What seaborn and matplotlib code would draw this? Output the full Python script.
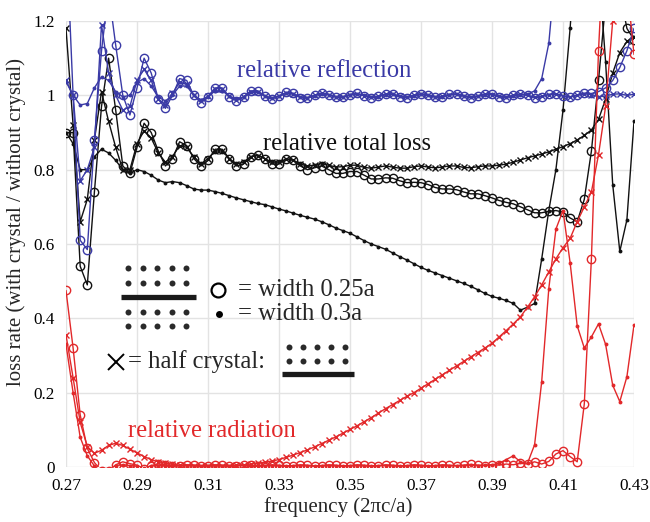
import numpy as np
import matplotlib
matplotlib.use("Agg")
import matplotlib.pyplot as plt
from matplotlib.ticker import MultipleLocator
import seaborn as sns

# ---- data -------------------------------------------------------------
# frequency samples in units of 2*pi*c/a
frequency = np.round(np.linspace(0.270, 0.430, 81), 3)

# relative reflection
refl_025 = [1.45, 1.00, 0.61, 0.585, 0.88, 1.12, 1.28, 1.135, 1.00, 0.947,
            1.02, 1.10, 1.06, 0.99, 0.965, 1.00, 1.045, 1.04, 1.00, 0.98,
            0.995, 1.02, 1.02, 0.995, 0.985, 0.995, 1.012, 1.012, 0.998, 0.99,
            0.998, 1.008, 1.005, 0.994, 0.992, 1.00, 1.006, 1.002, 0.995, 0.995,
            1.002, 1.005, 0.999, 0.994, 0.997, 1.004, 1.003, 0.996, 0.994, 1.00,
            1.004, 1.00, 0.995, 0.996, 1.003, 1.004, 0.998, 0.994, 0.998, 1.004,
            1.003, 0.996, 0.994, 1.00, 1.004, 1.00, 0.994, 0.996, 1.003, 1.004,
            0.998, 0.995, 1.00, 1.006, 1.005, 1.01, 1.02, 1.04, 1.075, 1.12, 1.18]
refl_030 = [1.037, 1.00, 0.974, 0.978, 1.02, 1.05, 1.04, 1.01, 0.996, 1.00,
            1.035, 1.045, 1.025, 0.995, 0.985, 1.00, 1.025, 1.025, 1.00, 0.988,
            0.996, 1.012, 1.012, 0.998, 0.99, 0.995, 1.008, 1.008, 0.998, 0.993,
            0.998, 1.005, 1.004, 0.996, 0.994, 0.999, 1.004, 1.002, 0.996, 0.995,
            1.001, 1.004, 1.00, 0.995, 0.996, 1.002, 1.003, 0.998, 0.995, 0.999,
            1.003, 1.001, 0.996, 0.996, 1.001, 1.003, 0.999, 0.995, 0.997, 1.002,
            1.003, 0.998, 0.995, 0.998, 1.002, 1.003, 1.012, 1.045, 1.14, 1.35,
            np.nan, np.nan, np.nan, np.nan, np.nan, np.nan, np.nan, np.nan, np.nan, np.nan, np.nan]
refl_half = [1.04, 1.00, 0.77, 0.80, 0.86, 1.19, 1.06, 1.00, 0.96, 0.97,
             1.04, 1.07, 1.04, 0.99, 0.975, 1.005, 1.035, 1.03, 1.00, 0.985,
             0.998, 1.018, 1.018, 0.997, 0.988, 0.996, 1.01, 1.01, 0.998, 0.992,
             0.998, 1.006, 1.004, 0.995, 0.993, 1.00, 1.005, 1.002, 0.996, 0.996,
             1.002, 1.004, 0.999, 0.995, 0.997, 1.003, 1.003, 0.997, 0.995, 1.00,
             1.003, 1.00, 0.996, 0.997, 1.002, 1.003, 0.998, 0.995, 0.998, 1.003,
             1.002, 0.997, 0.995, 1.00, 1.003, 1.00, 0.995, 0.997, 1.002, 1.003,
             0.998, 0.996, 1.00, 1.004, 1.002, 0.996, 0.998, 1.003, 1.004, 1.00, 1.003]

# relative total loss
loss_025 = [0.90, 0.90, 0.54, 0.49, 0.74, 0.97, 1.10, 0.96, 0.81, 0.79,
            0.86, 0.925, 0.90, 0.85, 0.81, 0.83, 0.875, 0.865, 0.83, 0.81,
            0.825, 0.855, 0.855, 0.83, 0.81, 0.815, 0.835, 0.84, 0.83, 0.815,
            0.815, 0.83, 0.825, 0.81, 0.80, 0.805, 0.81, 0.80, 0.79, 0.79,
            0.795, 0.795, 0.785, 0.775, 0.775, 0.778, 0.777, 0.77, 0.765, 0.766,
            0.765, 0.76, 0.752, 0.748, 0.748, 0.746, 0.74, 0.735, 0.735, 0.73,
            0.724, 0.717, 0.712, 0.708, 0.70, 0.692, 0.684, 0.684, 0.688, 0.69,
            0.686, 0.67, 0.66, 0.72, 0.85, 1.04, 1.25, 1.35, 1.28, 1.18, 1.15]
loss_030 = [0.90, 0.87, 0.80, 0.80, 0.835, 0.855, 0.845, 0.825, 0.80, 0.79,
            0.80, 0.795, 0.785, 0.772, 0.765, 0.768, 0.765, 0.757, 0.748, 0.745,
            0.745, 0.741, 0.736, 0.73, 0.724, 0.719, 0.714, 0.709, 0.706, 0.70,
            0.694, 0.689, 0.683, 0.677, 0.672, 0.667, 0.66, 0.652, 0.643, 0.636,
            0.629, 0.619, 0.609, 0.60, 0.593, 0.586, 0.576, 0.566, 0.557, 0.547,
            0.537, 0.529, 0.522, 0.515, 0.508, 0.501, 0.494, 0.486, 0.477, 0.467,
            0.459, 0.454, 0.448, 0.44, 0.422, 0.43, 0.44, 0.56, 0.69, 0.80,
            0.96, 1.18, 1.45, 1.65, 1.60, 1.35, 1.09, 0.76, 0.58, 0.665, 0.93]
loss_half = [1.18, 0.92, 0.66, 0.72, 0.88, 1.01, 0.93, 0.86, 0.80, 0.80,
             0.87, 0.905, 0.885, 0.845, 0.82, 0.835, 0.865, 0.86, 0.835, 0.815,
             0.83, 0.85, 0.85, 0.83, 0.815, 0.82, 0.835, 0.838, 0.83, 0.82,
             0.82, 0.828, 0.826, 0.815, 0.81, 0.812, 0.816, 0.812, 0.807, 0.808,
             0.812, 0.812, 0.806, 0.804, 0.807, 0.81, 0.807, 0.804, 0.804, 0.808,
             0.81, 0.807, 0.805, 0.807, 0.81, 0.81, 0.806, 0.805, 0.808, 0.81,
             0.81, 0.812, 0.815, 0.82, 0.826, 0.832, 0.837, 0.842, 0.848, 0.855,
             0.862, 0.87, 0.88, 0.892, 0.907, 0.935, 0.99, 1.06, 1.115, 1.145, 1.158]

# relative radiation
rad_025 = [0.475, 0.32, 0.14, 0.05, 0.012, -0.01, -0.01, 0.006, 0.014, 0.009,
           0.005, -0.005, 0.004, 0.008, 0.006, 0.003, 0.004, 0.006, 0.005, 0.003,
           0.004, 0.006, 0.005, 0.003, 0.004, 0.006, 0.005, 0.003, 0.004, 0.006,
           0.005, 0.003, 0.004, 0.006, 0.005, 0.003, 0.004, 0.006, 0.005, 0.003,
           0.004, 0.006, 0.005, 0.003, 0.004, 0.006, 0.005, 0.003, 0.004, 0.006,
           0.005, 0.003, 0.004, 0.006, 0.005, 0.004, 0.005, 0.007, 0.005, 0.004,
           0.006, 0.005, 0.008, 0.006, 0.01, 0.008, 0.014, 0.008, 0.015, 0.035,
           0.044, 0.028, 0.014, 0.17, 0.56, 1.12, 1.50, 1.60, 1.50, 1.30, 1.11]
rad_030 = [0.33, 0.20, 0.08, 0.03, 0.003, -0.01, -0.01, 0.004, 0.006, 0.004,
           0.002, -0.004, 0.003, 0.004, 0.003, 0.002, 0.003, 0.004, 0.003, 0.002,
           0.003, 0.004, 0.003, 0.002, 0.003, 0.004, 0.003, 0.002, 0.003, 0.004,
           0.003, 0.002, 0.003, 0.004, 0.003, 0.002, 0.003, 0.004, 0.003, 0.002,
           0.003, 0.004, 0.003, 0.002, 0.003, 0.004, 0.003, 0.002, 0.003, 0.004,
           0.003, 0.002, 0.003, 0.004, 0.003, 0.003, 0.004, 0.005, 0.004, 0.005,
           0.006, 0.01, 0.02, 0.03, 0.014, 0.01, 0.06, 0.23, 0.48, 0.64,
           0.69, 0.55, 0.38, 0.32, 0.35, 0.385, 0.33, 0.22, 0.176, 0.243, 0.382]
rad_half = [0.355, 0.24, 0.12, 0.055, 0.037, 0.045, 0.058, 0.064, 0.058, 0.048,
            0.038, 0.028, 0.02, 0.014, 0.01, 0.007, 0.005, 0.004, 0.004, 0.003,
            0.003, 0.003, 0.003, 0.004, 0.005, 0.006, 0.008, 0.01, 0.013, 0.016,
            0.02, 0.026, 0.032, 0.039, 0.046, 0.054, 0.063, 0.072, 0.081, 0.091,
            0.101, 0.111, 0.122, 0.133, 0.145, 0.157, 0.168, 0.179, 0.19, 0.20,
            0.212, 0.224, 0.236, 0.248, 0.26, 0.272, 0.284, 0.296, 0.308, 0.32,
            0.333, 0.35, 0.367, 0.385, 0.404, 0.43, 0.458, 0.49, 0.525, 0.56,
            0.59, 0.615, 0.66, 0.70, 0.74, 0.84, 0.97, 1.20, 1.40, 1.50, 1.50]

x_ticks = [0.27, 0.29, 0.31, 0.33, 0.35, 0.37, 0.39, 0.41, 0.43]
x_ticklabels = ["0.27", "0.29", "0.31", "0.33", "0.35", "0.37", "0.39", "0.41", "0.43"]
y_ticks = [0, 0.2, 0.4, 0.6, 0.8, 1.0, 1.2]
y_ticklabels = ["0", "0.2", "0.4", "0.6", "0.8", "1", "1.2"]

# ---- style ------------------------------------------------------------
sns.set_style("white")
plt.rcParams["font.family"] = ["Liberation Serif", "DejaVu Serif"]

BLUE = "#3a3aa6"
RED = "#e2282a"
BLACK = "#111111"

W, H = 650, 522
L, R, T, B = 66, 634, 21, 467          # axes box in pixels
fig = plt.figure(figsize=(W / 100, H / 100), dpi=100)
ax = fig.add_axes([L / W, 1 - B / H, (R - L) / W, (B - T) / H])


def fx(px):
    return (px - L) / (R - L)


def fy(py):
    return (B - py) / (B - T)


marker_styles = {
    "open": dict(marker="o", ms=6.0, mfc="none", mec=None, mew=1.0),
    "dot": dict(marker="o", ms=2.8, mew=0.0),
    "cross": dict(marker="x", ms=5.0, mew=1.0),
}

groups = [
    (BLACK, [(loss_025, "open"), (loss_030, "dot"), (loss_half, "cross")]),
    (BLUE, [(refl_025, "open"), (refl_030, "dot"), (refl_half, "cross")]),
    (RED, [(rad_025, "open"), (rad_030, "dot"), (rad_half, "cross")]),
]

for color, members in groups:
    for values, kind in members:
        st = dict(marker_styles[kind])
        st["mec"] = color
        if kind != "open":
            st["mfc"] = color
        sns.lineplot(x=frequency, y=np.asarray(values, dtype=float), color=color,
                     lw=1.0, estimator=None, sort=False, errorbar=None, ax=ax, **st)

ax.set_xlim(0.27, 0.43)
ax.set_ylim(0, 1.2)
ax.set_xticks(x_ticks)
ax.set_xticklabels(x_ticklabels)
ax.set_yticks(y_ticks)
ax.set_yticklabels(y_ticklabels)
ax.xaxis.set_minor_locator(MultipleLocator(0.005))
ax.yaxis.set_minor_locator(MultipleLocator(0.05))
ax.tick_params(which="major", direction="out", length=6, width=1.2,
               color="black", labelsize=12.3, labelcolor="black", pad=2)
ax.tick_params(which="minor", direction="out", length=3, width=1.2, color="black")
for s in ax.spines.values():
    s.set_visible(False)
ax.grid(True, which="major", color="#e3e3e3", lw=1.0)
ax.set_axisbelow(True)

ax.set_xlabel("frequency (2πc/a)", fontsize=15)
ax.set_ylabel("loss rate (with crystal / without crystal)", fontsize=15)
ax.xaxis.label.set_va("center")
ax.yaxis.label.set_va("center")
ax.xaxis.set_label_coords(fx(338), fy(507))
ax.yaxis.set_label_coords(fx(16), fy(222))

# curve labels
ax.text(fx(237), fy(71), "relative reflection", color=BLUE, fontsize=17.7,
        ha="left", va="center", transform=ax.transAxes)
ax.text(fx(263), fy(144), "relative total loss", color=BLACK, fontsize=17.7,
        ha="left", va="center", transform=ax.transAxes)
ax.text(fx(128), fy(431), "relative radiation", color=RED, fontsize=17.7,
        ha="left", va="center", transform=ax.transAxes)

# key: sketch of the crystal with the waveguide
DOT = "#2a2a2a"
cols1 = [128.3, 142.7, 157.3, 171.7, 186.0]
for row in [268.3, 283.3, 311.7, 326.0]:
    ax.plot([fx(c) for c in cols1], [fy(row)] * 5, "o", color=DOT, ms=4.3,
            mew=0, transform=ax.transAxes, clip_on=False)
ax.plot([fx(120.7), fx(196)], [fy(297.3)] * 2, color="#1a1a1a", lw=3.8,
        solid_capstyle="butt", transform=ax.transAxes)
cols2 = [289.3, 303.3, 317.3, 331.0, 345.0]
for row in [347.3, 360.7]:
    ax.plot([fx(c) for c in cols2], [fy(row)] * 5, "o", color=DOT, ms=4.3,
            mew=0, transform=ax.transAxes, clip_on=False)
ax.plot([fx(281.7), fx(354)], [fy(374.3)] * 2, color="#1a1a1a", lw=3.8,
        solid_capstyle="butt", transform=ax.transAxes)

ax.plot([fx(218)], [fy(290)], "o", ms=10, mfc="none", mec="black", mew=1.6,
        transform=ax.transAxes)
ax.plot([fx(219)], [fy(314)], "o", ms=5, mfc="black", mec="black", mew=0,
        transform=ax.transAxes)
ax.plot([fx(116)], [fy(362)], "x", ms=11, color="black", mew=1.4,
        transform=ax.transAxes)
ax.text(fx(238), fy(290), "= width 0.25a", fontsize=17.7, ha="left", va="center",
        transform=ax.transAxes)
ax.text(fx(238), fy(314), "= width 0.3a", fontsize=17.7, ha="left", va="center",
        transform=ax.transAxes)
ax.text(fx(128), fy(362), "= half crystal:", fontsize=17.7, ha="left", va="center",
        transform=ax.transAxes)

fig.savefig("out.png", dpi=100)
